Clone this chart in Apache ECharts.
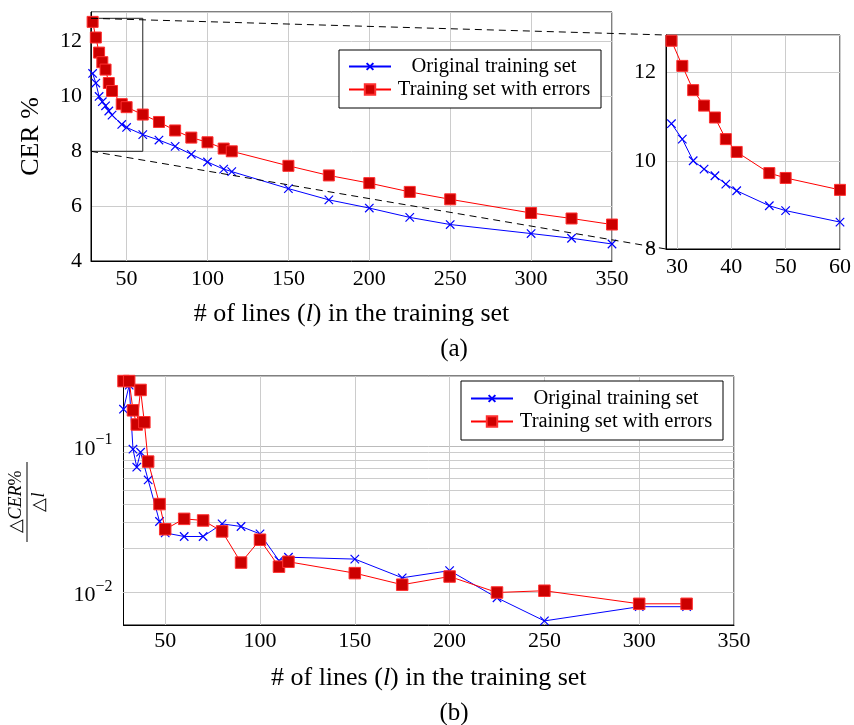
<!DOCTYPE html>
<html>
<head>
<meta charset="utf-8">
<title>CER vs number of training lines</title>
<script src="https://cdn.jsdelivr.net/npm/echarts@6/dist/echarts.min.js"></script>
<style>
  html, body { margin: 0; padding: 0; background: #fff; }
  #chart { width: 854px; height: 725px; }
</style>
</head>
<body>
<div id="chart"></div>
<script>
// values
const seriesNames = ['Original training set', 'Training set with errors']

// (a) CER % against number of lines
const linesX = [29, 31, 33, 35, 37, 39, 41, 47, 50, 60, 70, 80, 90, 100, 110, 115, 150, 175, 200, 225, 250, 300, 325, 350]
const cerOriginal = [10.84, 10.49, 10.0, 9.81, 9.66, 9.47, 9.32, 8.98, 8.87, 8.61, 8.41, 8.18, 7.89, 7.61, 7.35, 7.26, 6.64, 6.23, 5.93, 5.59, 5.33, 5.0, 4.83, 4.62]
const cerErrors = [12.72, 12.15, 11.6, 11.25, 10.98, 10.49, 10.2, 9.72, 9.61, 9.34, 9.07, 8.76, 8.5, 8.33, 8.1, 8.0, 7.47, 7.12, 6.84, 6.52, 6.25, 5.75, 5.55, 5.33]

// zoomed window shown in the inset
const zoomX = [28, 60]
const zoomY = [8, 12.85]

// (b) delta CER % / delta l
const deltaX = [28, 31, 33, 35, 37, 39, 41, 47, 50, 60, 70, 80, 90, 100, 110, 115, 150, 175, 200, 225, 250, 300, 325]
const deltaOriginal = [0.178, 0.26, 0.095, 0.0716, 0.0906, null, 0.0586, 0.0305, 0.0255, 0.0241, 0.0241, 0.0294, 0.0282, 0.0251, 0.0165, 0.0174, 0.0169, 0.0126, 0.0141, 0.0092, 0.0064, 0.0080, 0.0080]
const deltaErrors = [0.277, 0.277, 0.175, 0.140, 0.241, 0.145, 0.0782, 0.0401, 0.027, 0.0318, 0.0310, 0.0261, 0.0160, 0.0229, 0.0150, 0.0162, 0.01355, 0.0113, 0.01285, 0.0100, 0.01028, 0.00837, 0.00837]
const minorLogGrid = [0.007, 0.008, 0.009, 0.02, 0.03, 0.04, 0.05, 0.06, 0.07, 0.08, 0.09]

const SERIF = 'Liberation Serif'
const BLUE = '#0000ff'
const RED = '#ff0000'
const GRID_GRAY = '#cccccc'
// cross with some empty room round it, so the legend draws it smaller than the square
const CROSS = 'path://M0,0L10,10M10,0L0,10M-2.7,-2.7L-2.7,-2.7M12.7,12.7L12.7,12.7'

function pairs(xs, ys) {
  const out = []
  xs.forEach((x, i) => {
    if (ys[i] != null) out.push([x, ys[i]])
  })
  return out
}

function blueSeries(idx, data, extra) {
  return Object.assign({
    name: seriesNames[0],
    type: 'line',
    xAxisIndex: idx,
    yAxisIndex: idx,
    data: data,
    symbol: CROSS,
    symbolSize: 13,
    connectNulls: true,
    lineStyle: { color: BLUE, width: 1 },
    itemStyle: { color: BLUE, borderColor: BLUE, borderWidth: 1.2 },
    z: 3
  }, extra || {})
}

function redSeries(idx, data, size, extra) {
  return Object.assign({
    name: seriesNames[1],
    type: 'line',
    xAxisIndex: idx,
    yAxisIndex: idx,
    data: data,
    symbol: 'rect',
    symbolSize: size,
    lineStyle: { color: RED, width: 1 },
    itemStyle: { color: '#cc0000', borderColor: '#ff3030', borderWidth: 1 },
    z: 4
  }, extra || {})
}

const labelStyle = { fontFamily: SERIF, fontSize: 22, color: '#000' }
const splitLine = { show: true, lineStyle: { color: GRID_GRAY, width: 1 } }
const axisLine = { show: true, onZero: false, lineStyle: { color: '#000', width: 1 } }
const nameStyle = {
  fontFamily: SERIF, fontSize: 26, color: '#000',
  rich: { i: { fontFamily: SERIF, fontSize: 26, fontStyle: 'italic', color: '#000' } }
}

function linearX(idx, min, max, split, margin, name) {
  return {
    type: 'value', gridIndex: idx, min: min, max: max, splitNumber: split,
    axisLine: axisLine, axisTick: { show: false }, splitLine: splitLine,
    axisLabel: Object.assign({ margin: margin, showMinLabel: false, showMaxLabel: true }, labelStyle),
    name: name || '', nameLocation: 'middle', nameGap: 40, nameTextStyle: nameStyle
  }
}

function legendAt(left, top, padding) {
  return {
    left: left, top: top, orient: 'vertical',
    data: seriesNames,
    itemWidth: 42, itemHeight: 13, itemGap: 2,
    padding: padding,
    borderColor: '#000', borderWidth: 1, borderRadius: 0,
    backgroundColor: '#fff',
    formatter: name => '{c|' + name + '}',
    textStyle: {
      rich: { c: { width: 196, align: 'center', fontFamily: SERIF, fontSize: 20.5, lineHeight: 22, color: '#000' } }
    }
  }
}

const xTitle = '# of lines ({i|l}) in the training set'

const chart = echarts.init(document.getElementById('chart'))

chart.setOption({
  animation: false,
  backgroundColor: '#fff',
  grid: [
    { left: 91, top: 12, width: 521, height: 249, show: true, borderColor: '#000', borderWidth: 1 },
    { left: 666, top: 35, width: 176, height: 214, show: true, borderColor: '#000', borderWidth: 1 },
    { left: 123.5, top: 376, width: 610.5, height: 249, show: true, borderColor: '#000', borderWidth: 1 }
  ],
  legend: [
    legendAt(339, 50, [6, 9, 8, 9]),
    legendAt(461, 381, [7, 9, 8, 9])
  ],
  xAxis: [
    linearX(0, 28, 350, 6, 7, xTitle),
    linearX(1, zoomX[0], zoomX[1], 4, 7),
    linearX(2, 28, 350, 6, 5, xTitle)
  ],
  yAxis: [
    {
      type: 'value', gridIndex: 0, min: 4, max: 13.08, interval: 2,
      axisLine: axisLine, axisTick: { show: false }, splitLine: splitLine,
      axisLabel: Object.assign({ margin: 9, showMaxLabel: false }, labelStyle),
      name: 'CER %', nameLocation: 'middle', nameGap: 47,
      nameTextStyle: { fontFamily: SERIF, fontSize: 26, color: '#000' }
    },
    {
      type: 'value', gridIndex: 1, min: zoomY[0], max: zoomY[1], interval: 2,
      axisLine: axisLine, axisTick: { show: false }, splitLine: splitLine,
      axisLabel: Object.assign({ margin: 10, showMaxLabel: false }, labelStyle)
    },
    {
      type: 'log', logBase: 10, gridIndex: 2, min: 0.006, max: 0.3,
      axisLine: axisLine, axisTick: { show: false },
      splitLine: { show: true, lineStyle: { color: '#bbbbbb', width: 1 } },
      axisLabel: {
        margin: 11, showMinLabel: false, showMaxLabel: false,
        formatter: v => '{b|10}{s|\u2212' + Math.round(-Math.log10(v)) + '}',
        rich: {
          b: { fontFamily: SERIF, fontSize: 22, color: '#000', lineHeight: 28, verticalAlign: 'bottom' },
          s: { fontFamily: SERIF, fontSize: 16, color: '#000', lineHeight: 28, verticalAlign: 'top' }
        }
      }
    }
  ],
  series: [
    blueSeries(0, pairs(linesX, cerOriginal)),
    redSeries(0, pairs(linesX, cerErrors), 11, {
      markArea: {
        silent: true,
        itemStyle: { color: 'rgba(0,0,0,0)', borderColor: '#222', borderWidth: 1 },
        data: [[{ coord: [zoomX[0], zoomY[0]] }, { coord: [zoomX[1], zoomY[1]] }]]
      }
    }),
    blueSeries(1, pairs(linesX.filter(x => x <= zoomX[1]), cerOriginal)),
    redSeries(1, pairs(linesX.filter(x => x <= zoomX[1]), cerErrors), 11),
    blueSeries(2, pairs(deltaX, deltaOriginal), {
      markLine: {
        silent: true, z: 1, symbol: ['none', 'none'],
        label: { show: false },
        lineStyle: { color: GRID_GRAY, type: 'solid', width: 1 },
        emphasis: { disabled: true },
        data: minorLogGrid.map(v => ({ yAxis: v }))
      }
    }),
    redSeries(2, pairs(deltaX, deltaErrors), 11.5)
  ]
})

// dashed connectors between the zoom box and the inset, placed through the axes
const boxTop = chart.convertToPixel({ gridIndex: 0 }, [zoomX[0], zoomY[1]])
const boxBottom = chart.convertToPixel({ gridIndex: 0 }, [zoomX[0], zoomY[0]])
const insetTop = chart.convertToPixel({ gridIndex: 1 }, [zoomX[0], zoomY[1]])
const insetBottom = chart.convertToPixel({ gridIndex: 1 }, [zoomX[0], zoomY[0]])
const dashed = { stroke: '#000', lineWidth: 1, lineDash: [7, 5] }
const captionFont = '25px "Liberation Serif"'
const fracRich = { i: { fontFamily: SERIF, fontSize: 18, fontStyle: 'italic', color: '#000' } }

chart.setOption({
  graphic: [
    { type: 'line', z: 50, silent: true, shape: { x1: boxTop[0], y1: boxTop[1], x2: insetTop[0], y2: insetTop[1] }, style: dashed },
    { type: 'line', z: 50, silent: true, shape: { x1: boxBottom[0], y1: boxBottom[1], x2: insetBottom[0], y2: insetBottom[1] }, style: dashed },
    { type: 'text', x: 454, y: 349, style: { text: '(a)', font: captionFont, fill: '#000', align: 'center', verticalAlign: 'middle' } },
    { type: 'text', x: 454, y: 713, style: { text: '(b)', font: captionFont, fill: '#000', align: 'center', verticalAlign: 'middle' } },
    {
      type: 'group', x: 27, y: 502, rotation: Math.PI / 2,
      children: [
        {
          type: 'text', x: 0, y: -2,
          style: {
            text: '\u25B3{i|CER}%', align: 'center', verticalAlign: 'bottom',
            font: '18px "Liberation Serif"', fill: '#000', rich: fracRich
          }
        },
        { type: 'line', shape: { x1: -40, y1: 0, x2: 40, y2: 0 }, style: { stroke: '#000', lineWidth: 1 } },
        {
          type: 'text', x: 0, y: 3,
          style: {
            text: '\u25B3{i|l}', align: 'center', verticalAlign: 'top',
            font: '18px "Liberation Serif"', fill: '#000', rich: fracRich
          }
        }
      ]
    }
  ]
})
</script>
</body>
</html>
